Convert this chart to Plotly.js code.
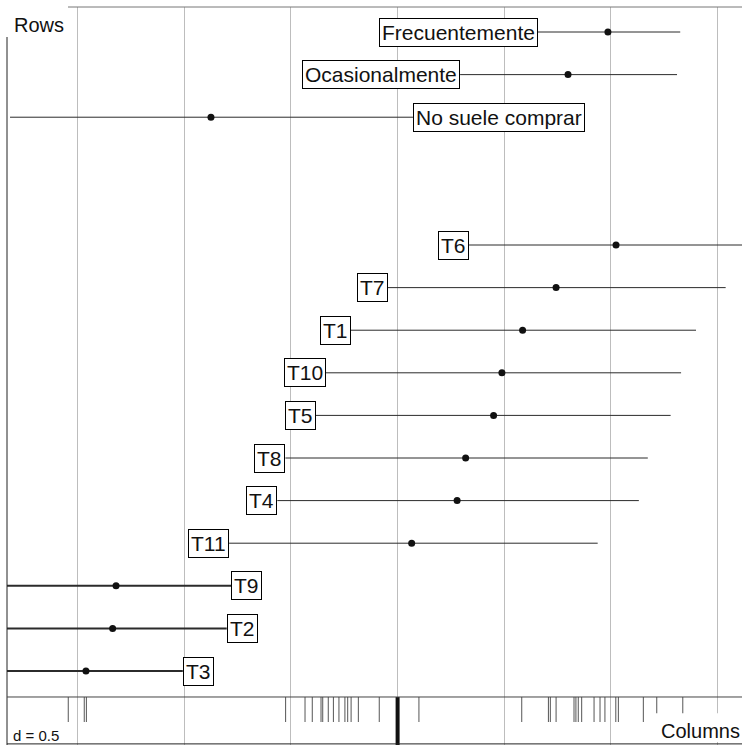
<!DOCTYPE html>
<html><head><meta charset="utf-8">
<script src="https://cdn.plot.ly/plotly-3.0.1.min.js"></script>
<style>html,body{margin:0;padding:0;background:#fff}</style>
</head><body><div id="chart" style="width:742px;height:746px"></div>
<script>
// ---- data ----
const rowLabels = ["Frecuentemente", "Ocasionalmente", "No suele comprar"];
const rowScore  = [0.986, 0.799, -0.875];
const rowLo     = [0.658, 0.293, -1.817];
const rowHi     = [1.325, 1.310, 0.072];

const colLabels = ["T6", "T7", "T1", "T10", "T5", "T8", "T4", "T11", "T9", "T2", "T3"];
const colScore  = [1.024, 0.743, 0.586, 0.489, 0.450, 0.319, 0.279, 0.066, -1.320, -1.336, -1.461];
const colLo     = [0.335, -0.045, -0.219, -0.338, -0.384, -0.526, -0.564, -0.790, -1.90, -1.90, -1.90];
const colHi     = [1.70, 1.538, 1.399, 1.329, 1.280, 1.173, 1.131, 0.938, -0.779, -0.801, -1.007];

const rugValues = [-1.544, -1.469, -1.459, -0.525, -0.434, -0.400, -0.359, -0.351, -0.325, -0.301,
  -0.275, -0.247, -0.234, -0.218, -0.184, -0.086, 0.100, 0.582, 0.707, 0.716, 0.743, 0.827, 0.836,
  0.847, 0.863, 0.921, 0.949, 0.972, 1.023, 1.035, 1.152, 1.215, 1.337];

const gridStep = 0.5;   // "d = 0.5"

// ---- layout constants (styling) ----
const xRange = [-1.8312, 1.6146];
const yRange = [16.737, -0.587];
const stripTop = 15.61, rugBottom = 16.197;
const leftEdge = xRange[0];
const thickRows = ["T9", "T2", "T3"];
const font = "Liberation Sans, Arial, Helvetica, sans-serif";

// combine rows (positions 0..2) and columns (positions 5..15)
const items = [];
rowLabels.forEach((l, i) => items.push({label: l, score: rowScore[i], lo: rowLo[i], hi: rowHi[i], y: i}));
colLabels.forEach((l, i) => items.push({label: l, score: colScore[i], lo: colLo[i], hi: colHi[i], y: i + 5}));

const traces = [];
const annotations = [];
items.forEach(it => {
  traces.push({
    x: [it.lo, it.hi], y: [it.y, it.y], mode: "lines", type: "scatter",
    line: {color: "#2b2b2b", width: thickRows.includes(it.label) ? 2 : 1},
    hoverinfo: "skip", showlegend: false
  });
  const atEnd = it.lo <= leftEdge + 0.05;
  annotations.push({
    x: atEnd ? it.hi : it.lo, y: it.y, xref: "x", yref: "y",
    text: it.label, showarrow: false,
    xanchor: atEnd ? "left" : "right", yanchor: "middle",
    bgcolor: "#fff", bordercolor: "#000", borderwidth: 1, borderpad: 2,
    font: {family: font, size: 21, color: "#111"}
  });
});
traces.push({
  x: items.map(d => d.score), y: items.map(d => d.y), mode: "markers", type: "scatter",
  marker: {color: "#111", size: 7, symbol: "circle"}, hoverinfo: "skip", showlegend: false
});
// rug
const rx = [], ry = [];
rugValues.forEach(v => { rx.push(v, v, null); ry.push(stripTop, rugBottom, null); });
traces.push({x: rx, y: ry, mode: "lines", type: "scatter",
  line: {color: "#555", width: 1}, hoverinfo: "skip", showlegend: false});

const shapes = [
  // origin thick line in strip
  {type: "line", xref: "x", yref: "y", x0: 0, x1: 0, y0: stripTop, y1: yRange[0], line: {color: "#111", width: 4}},
  // frame
  {type: "line", xref: "paper", yref: "paper", x0: 0, x1: 1, y0: 1, y1: 1, line: {color: "#777", width: 1}},
  {type: "line", xref: "paper", yref: "paper", x0: 0, x1: 0, y0: 0, y1: 1, line: {color: "#222", width: 1}},
  {type: "line", xref: "paper", yref: "y", x0: 0, x1: 1, y0: stripTop, y1: stripTop, line: {color: "#444", width: 1}},
  {type: "line", xref: "paper", yref: "paper", x0: 0, x1: 1, y0: 0.0015, y1: 0.0015, line: {color: "#222", width: 1}},
  // white boxes for corner labels
  {type: "rect", xref: "paper", yref: "paper", x0: -0.0095, x1: 0.083, y0: 0.9593, y1: 1.0095,
    fillcolor: "#fff", line: {width: 0}, layer: "above"},
  {type: "rect", xref: "paper", yref: "paper", x0: 0.877, x1: 1.0, y0: 0.004, y1: 0.043,
    fillcolor: "#fff", line: {width: 0}, layer: "above"}
];

annotations.push(
  {xref: "paper", yref: "paper", x: 0.0068, y: 0.976, text: "Rows", showarrow: false,
   xanchor: "left", yanchor: "middle", font: {family: font, size: 20, color: "#111"}},
  {xref: "paper", yref: "paper", x: 1.0, y: 0.019, text: "Columns", showarrow: false,
   xanchor: "right", yanchor: "middle", font: {family: font, size: 20, color: "#111"}},
  {xref: "paper", yref: "paper", x: 0.006, y: 0.0135, text: "d = " + gridStep, showarrow: false,
   xanchor: "left", yanchor: "middle", font: {family: font, size: 15, color: "#111"}}
);

const layout = {
  width: 742, height: 746,
  margin: {l: 7, r: 0, t: 7, b: 1},
  paper_bgcolor: "#fff", plot_bgcolor: "#fff",
  xaxis: {range: xRange, showgrid: true, dtick: gridStep, tick0: 0, gridcolor: "#bdbdbd", gridwidth: 1,
          zeroline: false, showticklabels: false, ticks: "", showline: false},
  yaxis: {range: yRange, showgrid: false, zeroline: false, showticklabels: false, ticks: "", showline: false},
  shapes: shapes, annotations: annotations, showlegend: false
};
Plotly.newPlot("chart", traces, layout, {staticPlot: true, displayModeBar: false});
</script></body></html>
